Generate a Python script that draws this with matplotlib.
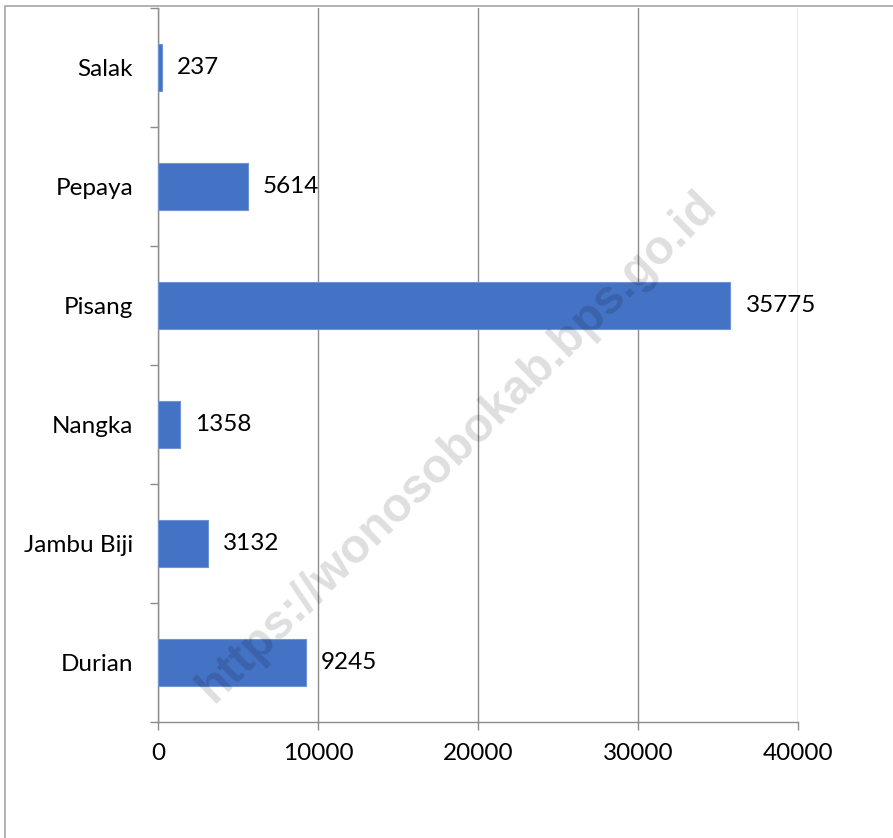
import matplotlib
matplotlib.use("Agg")
import matplotlib.pyplot as plt
from matplotlib.patches import Rectangle
import numpy as np

categories = ["Durian", "Jambu Biji", "Nangka", "Pisang", "Pepaya", "Salak"]
values = [9245, 3132, 1358, 35775, 5614, 237]
x_ticks = [0, 10000, 20000, 30000, 40000]

plt.rcParams['font.family'] = ['Lato', 'DejaVu Sans']

W, H = 893, 838
fig = plt.figure(figsize=(W / 100, H / 100), dpi=100)
ax = fig.add_axes([158 / W, 1 - 722 / H, (798 - 158) / W, (722 - 8) / H])

bar_color = "#4472C4"
grid_color = "#8c8c8c"
fs = 17.5
y = np.arange(len(categories))
ax.barh(y, values, height=0.39, color=bar_color, edgecolor='#6f93d4', linewidth=0.8, zorder=3)

ax.set_xlim(0, 40000)
ax.set_ylim(-0.5, len(categories) - 0.5)

ax.set_xticks(x_ticks)
ax.set_xticklabels([str(t) for t in x_ticks], fontsize=fs)
ax.tick_params(axis='x', length=6, width=1, color=grid_color, pad=9)

ax.set_yticks(np.arange(-0.5, len(categories), 1.0))
ax.set_yticklabels([])
ax.tick_params(axis='y', which='major', length=6, width=1, color=grid_color)
ax.set_yticks(y, minor=True)
ax.set_yticklabels(categories, minor=True, fontsize=fs)
ax.tick_params(axis='y', which='minor', length=0, pad=18)

ax.xaxis.grid(True, color=grid_color, linewidth=1, zorder=0)
ax.set_axisbelow(True)
for s in ['top', 'right']:
    ax.spines[s].set_visible(False)
for s in ['left', 'bottom']:
    ax.spines[s].set_color(grid_color)
    ax.spines[s].set_linewidth(1)

for yi, v in zip(y, values):
    ax.annotate(str(v), xy=(v, yi), xytext=(11, 0), textcoords='offset points',
                va='center', ha='left', fontsize=fs, color='black', zorder=4)

# watermark
fig.text(457 / W, 1 - 447 / H, "https://wonosobokab.bps.go.id", fontsize=34.5,
         fontweight='bold', family=['Liberation Sans', 'DejaVu Sans'],
         color='black', alpha=0.13, rotation=44.5, ha='center', va='center',
         zorder=5)

# outer chart border
fig.patches.append(Rectangle((5 / W, -0.05), 1.2, 1 - 6 / H + 0.05,
                             transform=fig.transFigure, fill=False,
                             edgecolor='#a6a6a6', linewidth=1.2, zorder=0))

fig.savefig("out.png", dpi=100)
